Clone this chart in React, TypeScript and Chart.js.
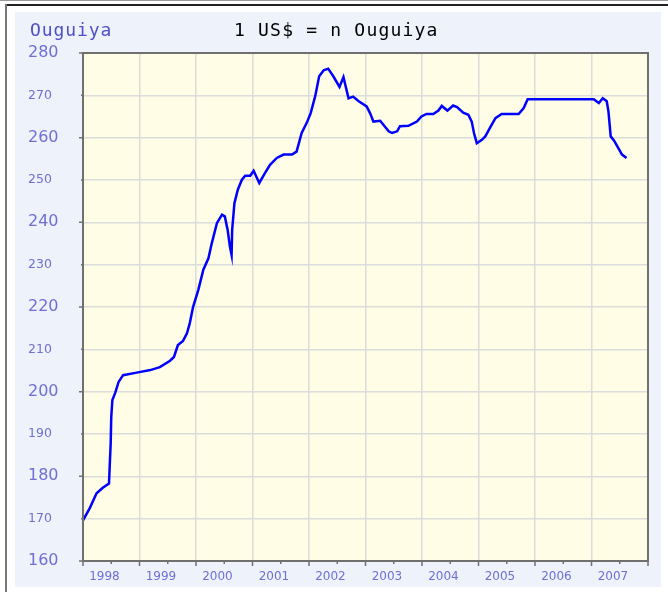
import React, { useEffect, useRef } from "react";
import { Chart, registerables } from "chart.js";

Chart.register(...registerables);

const TITLE_LEFT = "Ouguiya";
const TITLE_MAIN = "1 US$ = n Ouguiya";

const yearTicks = [1998, 1999, 2000, 2001, 2002, 2003, 2004, 2005, 2006, 2007, 2008];
const yearLabels = ["1998", "1999", "2000", "2001", "2002", "2003", "2004", "2005", "2006", "2007"];
const LABEL_OFFSET = 0.38;

const dates = [
  1998.0, 1998.12, 1998.24, 1998.35, 1998.46, 1998.47, 1998.49, 1998.5, 1998.52, 1998.57,
  1998.63, 1998.71, 1998.95, 1999.19, 1999.36, 1999.54, 1999.61, 1999.68, 1999.77, 1999.84,
  1999.89, 1999.95, 2000.04, 2000.13, 2000.22, 2000.28, 2000.37, 2000.46, 2000.51, 2000.56,
  2000.6, 2000.63, 2000.64, 2000.68, 2000.74, 2000.81, 2000.87, 2000.96, 2001.02, 2001.12,
  2001.22, 2001.31, 2001.43, 2001.55, 2001.7, 2001.78, 2001.87, 2001.96, 2002.03, 2002.11,
  2002.18, 2002.26, 2002.34, 2002.43, 2002.54, 2002.61, 2002.7, 2002.78, 2002.88, 2003.02,
  2003.08, 2003.14, 2003.26, 2003.32, 2003.41, 2003.47, 2003.56, 2003.61, 2003.76, 2003.91,
  2003.99, 2004.08, 2004.2, 2004.29, 2004.35, 2004.45, 2004.55, 2004.62, 2004.73, 2004.82,
  2004.88, 2004.92, 2004.97, 2005.06, 2005.12, 2005.21, 2005.3, 2005.41, 2005.71, 2005.8,
  2005.87, 2007.04, 2007.13, 2007.2, 2007.27, 2007.3, 2007.34, 2007.4, 2007.46, 2007.54,
  2007.62,
];

const rates = [
  169.6, 172.5, 176.0, 177.3, 178.3, 181.5, 187.8, 194.0, 198.0, 199.7,
  202.3, 203.9, 204.5, 205.1, 205.8, 207.3, 208.2, 211.0, 212.0, 213.8,
  216.2, 220.1, 224.0, 228.8, 231.5, 235.1, 239.8, 241.8, 241.4, 238.2,
  234.3, 232.3, 238.2, 244.5, 247.7, 250.0, 251.0, 251.0, 252.2, 249.3,
  251.6, 253.6, 255.2, 256.0, 256.0, 256.7, 261.1, 263.5, 265.8, 269.8,
  274.5, 275.9, 276.3, 274.5, 272.0, 274.3, 269.3, 269.7, 268.6, 267.4,
  265.8, 263.8, 264.0, 263.0, 261.5, 261.1, 261.5, 262.7, 262.8, 263.8,
  265.0, 265.6, 265.6, 266.4, 267.5, 266.4, 267.6, 267.2, 265.9, 265.4,
  263.8, 261.1, 258.7, 259.5, 260.3, 262.5, 264.6, 265.6, 265.6, 267.0,
  269.1, 269.1, 268.2, 269.3, 268.6, 266.2, 260.3, 259.3, 257.9, 256.0,
  255.2,
];

const Y_MIN = 160;
const Y_MAX = 280;
const Y_STEP = 10;

const LABEL_COLOR = "#6f6fd4";
const AXIS_COLOR = "#707070";

const isInt = (v: number) => Math.abs(v - Math.round(v)) < 1e-6;

const framePlugin = {
  id: "frame",
  beforeDraw(chart: any) {
    const { ctx, chartArea } = chart;
    ctx.save();
    ctx.fillStyle = "#fffde6";
    ctx.fillRect(chartArea.left, chartArea.top, chartArea.right - chartArea.left, chartArea.bottom - chartArea.top);
    ctx.restore();
  },
  afterDraw(chart: any) {
    const { ctx, chartArea } = chart;
    const xs = chart.scales.x;
    const ys = chart.scales.y;
    ctx.save();
    ctx.strokeStyle = AXIS_COLOR;
    ctx.lineWidth = 1.5;
    ctx.beginPath();
    for (let i = 0; i < yearTicks.length; i++) {
      const px = xs.getPixelForValue(yearTicks[i]);
      ctx.moveTo(px, chartArea.bottom);
      ctx.lineTo(px, chartArea.bottom + 5);
      if (i < yearTicks.length - 1) {
        const mx = xs.getPixelForValue(yearTicks[i] + 0.5);
        ctx.moveTo(mx, chartArea.bottom);
        ctx.lineTo(mx, chartArea.bottom + 3);
      }
    }
    for (let v = Y_MIN; v <= Y_MAX; v += Y_STEP) {
      const py = ys.getPixelForValue(v);
      const len = v % 20 === 0 ? 4 : 2;
      ctx.moveTo(chartArea.left - len, py);
      ctx.lineTo(chartArea.left, py);
    }
    ctx.stroke();
    ctx.lineWidth = 2;
    ctx.strokeRect(chartArea.left, chartArea.top, chartArea.right - chartArea.left, chartArea.bottom - chartArea.top);
    ctx.restore();
  },
};

function RateChart() {
  const ref = useRef<HTMLCanvasElement | null>(null);
  useEffect(() => {
    if (!ref.current) return;
    const points = dates.map((d, i) => ({ x: d, y: rates[i] }));
    const chart = new Chart(ref.current, {
      type: "line",
      data: {
        datasets: [
          {
            data: points,
            borderColor: "#0000ff",
            borderWidth: 2.5,
            pointRadius: 0,
            tension: 0,
            fill: false,
          },
        ],
      },
      options: {
        animation: false,
        responsive: false,
        events: [],
        layout: { padding: { left: 13, right: 13, top: 41, bottom: 0 } },
        plugins: { legend: { display: false }, tooltip: { enabled: false }, title: { display: false } },
        scales: {
          x: {
            type: "linear",
            min: yearTicks[0],
            max: yearTicks[yearTicks.length - 1],
            afterBuildTicks: (scale: any) => {
              const t: any[] = [];
              yearTicks.forEach((yr, i) => {
                t.push({ value: yr });
                if (i < yearLabels.length) t.push({ value: yr + LABEL_OFFSET });
              });
              scale.ticks = t;
            },
            afterFit: (scale: any) => {
              scale.height = 26;
            },
            border: { display: false },
            grid: {
              color: (c: any) => (c.tick && isInt(c.tick.value) ? "#dcdcdc" : "rgba(0,0,0,0)"),
              lineWidth: 1.5,
              tickColor: "rgba(0,0,0,0)",
              tickLength: 5,
            },
            ticks: {
              autoSkip: false,
              maxRotation: 0,
              padding: 4,
              color: LABEL_COLOR,
              font: { family: "'DejaVu Sans', Verdana, sans-serif", size: 12 },
              callback: (v: any) => {
                const n = Number(v);
                if (isInt(n)) return "";
                const idx = Math.round(n - LABEL_OFFSET) - yearTicks[0];
                return yearLabels[idx] ?? "";
              },
            },
          },
          y: {
            min: Y_MIN,
            max: Y_MAX,
            afterFit: (scale: any) => {
              scale.width = 55;
            },
            border: { display: false },
            grid: { color: "#dcdcdc", lineWidth: 1.5, tickColor: "rgba(0,0,0,0)", tickLength: 4 },
            ticks: {
              stepSize: Y_STEP,
              crossAlign: "far",
              color: LABEL_COLOR,
              font: (c: any) => ({
                family: "'DejaVu Sans', Verdana, sans-serif",
                size: c.tick && c.tick.value % 20 === 0 ? 16 : 12.5,
              }),
            },
          },
        },
      },
      plugins: [framePlugin],
    } as any);
    return () => chart.destroy();
  }, []);
  return <canvas ref={ref} width={646} height={575} style={{ display: "block" }} />;
}

export default function App() {
  const mono = "'DejaVu Sans Mono', 'Liberation Mono', monospace";
  return (
    <div style={{ position: "absolute", left: 0, top: 0, width: 668, height: 592, background: "#fff", overflow: "hidden" }}>
      <div style={{ position: "absolute", left: 0, top: 0, width: 668, height: 1, background: "#999" }} />
      <div style={{ position: "absolute", left: 5, top: 4, width: 663, height: 2, background: "#222" }} />
      <div style={{ position: "absolute", left: 5, top: 4, width: 2, height: 588, background: "#777" }} />
      <div style={{ position: "absolute", left: 15, top: 12, width: 646, height: 575, background: "#eef2fb" }}>
        <RateChart />
        <div
          style={{
            position: "absolute",
            left: 15,
            top: 7,
            fontFamily: mono,
            fontSize: 18,
            lineHeight: "21px",
            letterSpacing: "0.9px",
            color: "#5050c8",
            whiteSpace: "nowrap",
          }}
        >
          {TITLE_LEFT}
        </div>
        <div
          style={{
            position: "absolute",
            left: 219,
            top: 7,
            fontFamily: mono,
            fontSize: 18,
            lineHeight: "21px",
            letterSpacing: "1.2px",
            color: "#000",
            whiteSpace: "nowrap",
          }}
        >
          {TITLE_MAIN}
        </div>
      </div>
    </div>
  );
}
